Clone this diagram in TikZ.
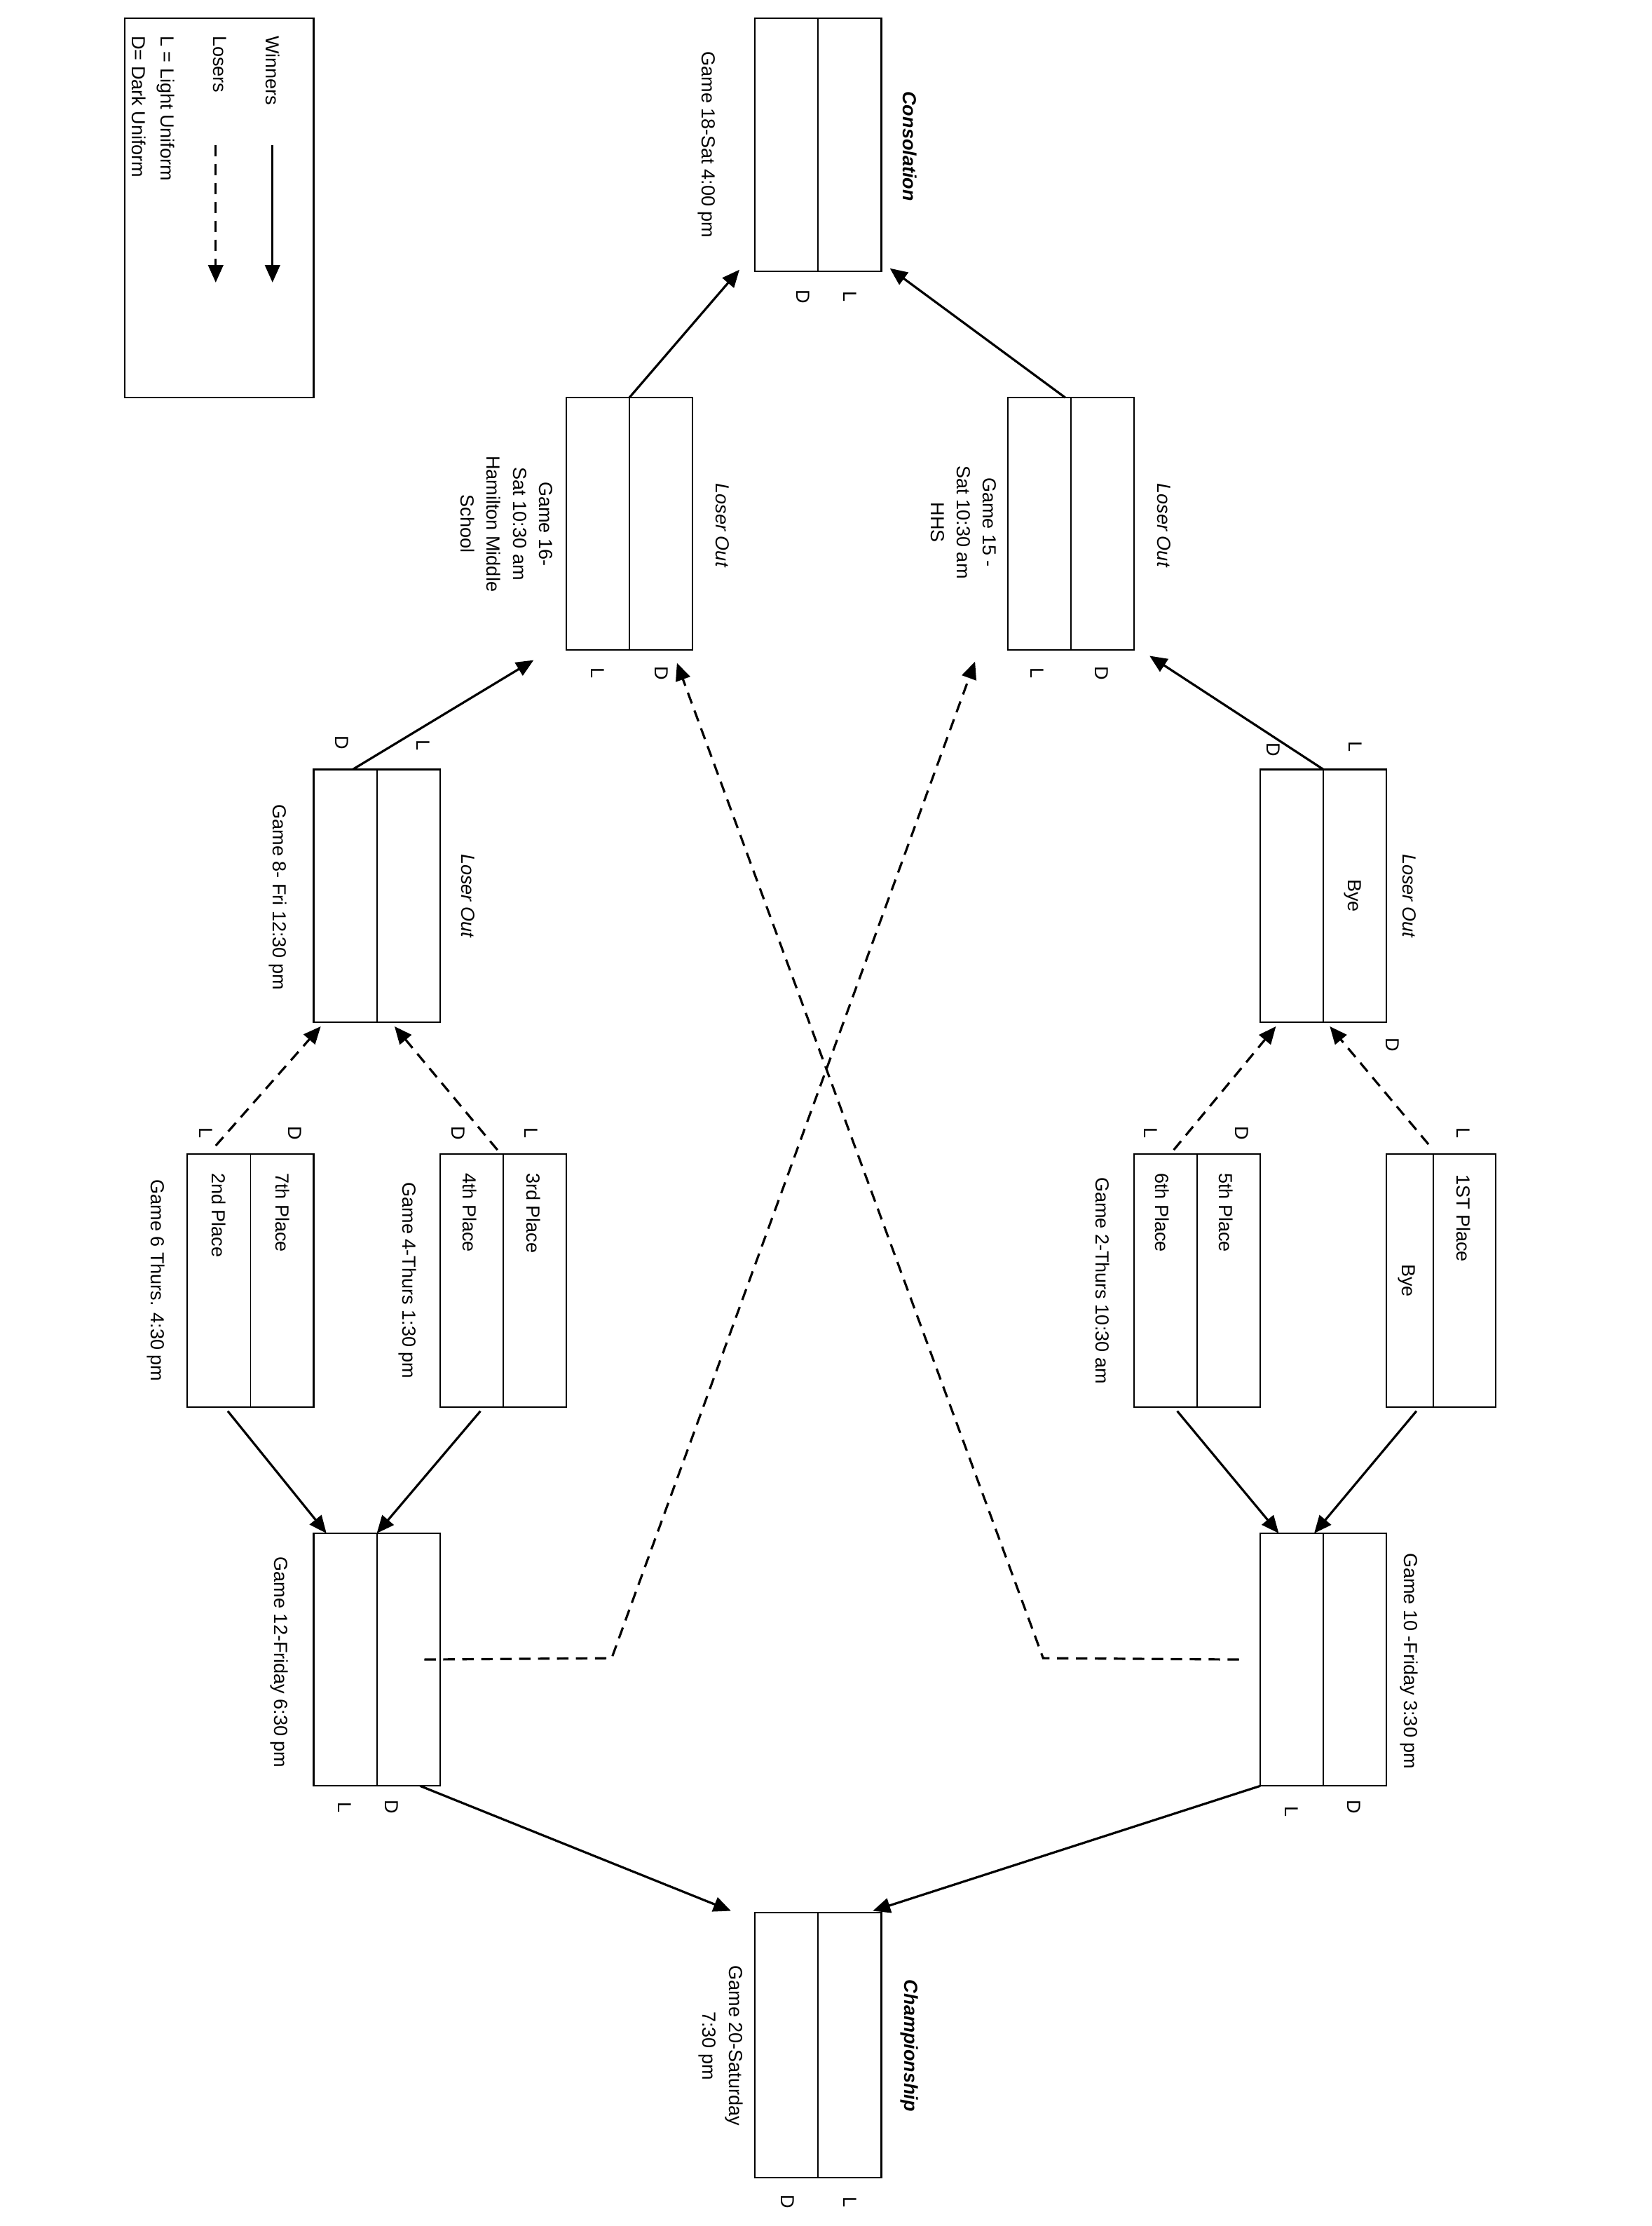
\documentclass[tikz,border=0pt]{standalone}
\usepackage{fontspec}
\setmainfont{Liberation Sans}
\usepackage{tikz}
\usetikzlibrary{arrows.meta, positioning, calc}

\begin{document}
\begin{tikzpicture}[x={(0.02cm,0)}, y={(0,-0.02cm)},
        game/.style={draw, line width=0.6pt, minimum width=1.78cm, minimum height=3.56cm, inner sep=0pt, outer sep=0pt},
        txt/.style={rotate=-90, inner sep=0pt, align=center, font=\fontsize{7.6}{10.5}\selectfont},
        note/.style={txt, font=\fontsize{7.6}{10.5}\selectfont\itshape},
        title/.style={txt, font=\fontsize{7.6}{10.5}\selectfont\bfseries\itshape},
        win/.style={line width=0.9pt, -{Triangle[length=7pt, width=6pt]}},
        lose/.style={win, dash pattern=on 4.6pt off 3pt},
        divider/.style={line width=0.5pt}]
        \useasboundingbox (0,0) rectangle (1164,1568);

        % Legend
        \node[game, minimum width=2.66cm, minimum height=5.34cm] (legend) at (154.5,146.5) {};
        \node[txt, anchor=west] (lwin) at (192,25) {Winners};
        \node[txt, anchor=west] (llose) at (155,25) {Losers};
        \node[txt, anchor=west] (llight) at (117,25) {L = Light Uniform};
        \node[txt, anchor=west] (ldark) at (98,25) {D= Dark Uniform};
        \coordinate (wa) at (192,102);
        \coordinate (wb) at (192,199);
        \coordinate (la) at (152,102);
        \coordinate (lb) at (152,199);
        \draw[win] (wa) -- (wb);
        \draw[lose] (la) -- (lb);

        % Game boxes
        \node[game] (g18) at (576.5,102) {};
        \node[game] (g16) at (443.5,369) {};
        \node[game] (g15) at (754.5,369) {};
        \node[game] (g8) at (265.5,631) {};
        \node[game] (g9) at (932.5,631) {};
        \node[game] (g6) at (176.5,902) {};
        \node[game] (g4) at (354.5,902) {};
        \node[game] (g2) at (843.5,902) {};
        \node[game, minimum width=1.54cm] (g1) at (1015.5,902) {};
        \node[game] (g12) at (265.5,1169) {};
        \node[game] (g10) at (932.5,1169) {};
        \node[game, minimum height=3.74cm] (g20) at (576.5,1440.5) {};
        \foreach \g in {g18,g16,g15,g8,g9,g6,g4,g2,g12,g10,g20} {
            \draw[divider] (\g.north) -- (\g.south);
        }
        \draw[divider] ([shift={(-5.5,0)}]g1.north) -- ([shift={(-5.5,0)}]g1.south);

        % Consolation
        \node[title] (t18a) at (641,103) {Consolation};
        \node[txt] (t18b) at (498,102) {Game 18-Sat 4:00 pm};
        \node[txt] (l18) at (599,209) {L};
        \node[txt] (d18) at (566,209) {D};

        % Game 16 and Game 15
        \node[note] (t16a) at (509,370) {Loser Out};
        \node[txt] (t16b) at (357,369) {Game 16-\\Sat 10:30 am\\Hamilton Middle\\School};
        \node[txt] (l16) at (421,474) {L};
        \node[txt] (d16) at (466,474) {D};
        \node[note] (t15a) at (820,370) {Loser Out};
        \node[txt] (t15b) at (679,368) {Game 15 -\\Sat 10:30 am\\HHS};
        \node[txt] (l15) at (731,474) {L};
        \node[txt] (d15) at (776,474) {D};

        % Game 8 and the bye
        \node[note] (t8a) at (330,631) {Loser Out};
        \node[txt] (t8b) at (196,632) {Game 8- Fri 12:30 pm};
        \node[txt] (l8) at (298,525) {L};
        \node[txt] (d8) at (241,523) {D};
        \node[note] (t9a) at (993,631) {Loser Out};
        \node[txt] (t9b) at (953,631) {Bye};
        \node[txt] (l9) at (955,526) {L};
        \node[txt] (d9) at (897,528) {D};
        \node[txt] (d9b) at (981,736) {D};

        % First round
        \node[txt, anchor=west] (p3) at (376,826) {3rd Place};
        \node[txt, anchor=west] (p4) at (331,826) {4th Place};
        \node[txt] (t4) at (287,902) {Game 4-Thurs 1:30 pm};
        \node[txt] (l4) at (374,798) {L};
        \node[txt] (d4) at (323,798) {D};
        \node[txt, anchor=west] (p7) at (199,826) {7th Place};
        \node[txt, anchor=west] (p2) at (154,826) {2nd Place};
        \node[txt] (t6) at (110,902) {Game 6 Thurs. 4:30 pm};
        \node[txt] (l6) at (145,798) {L};
        \node[txt] (d6) at (208,798) {D};
        \node[txt, anchor=west] (p5) at (864,826) {5th Place};
        \node[txt, anchor=west] (p6) at (819,826) {6th Place};
        \node[txt] (t2) at (777,902) {Game 2-Thurs 10:30 am};
        \node[txt] (l2) at (811,798) {L};
        \node[txt] (d2) at (875,798) {D};
        \node[txt, anchor=west] (p1) at (1031,827) {1ST Place};
        \node[txt] (t1) at (991,902) {Bye};
        \node[txt] (l1) at (1031,798) {L};

        % Game 12 and Game 10
        \node[txt] (t12) at (197,1171) {Game 12-Friday 6:30 pm};
        \node[txt] (l12) at (243,1273) {L};
        \node[txt] (d12) at (276,1273) {D};
        \node[txt] (t10) at (993,1170) {Game 10 -Friday 3:30 pm};
        \node[txt] (l10) at (910,1276) {L};
        \node[txt] (d10) at (954,1273) {D};

        % Championship
        \node[title] (t20a) at (641,1441) {Championship};
        \node[txt] (t20b) at (508,1441) {Game 20-Saturday\\7:30 pm};
        \node[txt] (l20) at (599,1551) {L};
        \node[txt] (d20) at (555,1551) {D};

        % Winners
        \draw[win] (g16.north) -- ([shift={(-11,-1)}]g18.south west);
        \draw[win] ([shift={(-4,0)}]g15.north) -- ([shift={(6,-2)}]g18.south east);
        \draw[win] ([shift={(-17,0)}]g8.north) -- ([shift={(-23,7)}]g16.south west);
        \draw[win] (g9.north) -- ([shift={(11,4)}]g15.south east);
        \draw[win] ([shift={(-16,3)}]g6.south) -- ([shift={(9,0)}]g12.north west);
        \draw[win] ([shift={(-16,3)}]g4.south) -- (g12.north);
        \draw[win] ([shift={(-14,3)}]g2.south) -- ([shift={(13,0)}]g10.north west);
        \draw[win] ([shift={(-17.5,3)}]g1.south) -- ([shift={(-6.5,0)}]g10.north);
        \draw[win] ([shift={(-14,0)}]g12.south east) -- ([shift={(-17,-1)}]g20.north west);
        \draw[win] (g10.south west) -- ([shift={(-6,-1)}]g20.north east);

        % Losers
        \draw[lose] ([shift={(-4,-3)}]g4.north) -- ([shift={(12.5,3)}]g8.south);
        \draw[lose] ([shift={(20,-6)}]g6.north west) -- ([shift={(5,3)}]g8.south west);
        \draw[lose] ([shift={(28,-3)}]g2.north west) -- ([shift={(11,3)}]g9.south west);
        \draw[lose] ([shift={(-9,-7)}]g1.north) -- ([shift={(4.5,3)}]g9.south);
        \coordinate (b12) at (431,1168);
        \coordinate (b10) at (735,1168);
        \draw[lose] ([shift={(-11,0)}]g12.east) -- (b12) -- ([shift={(-23,8)}]g15.south west);
        \draw[lose] ([shift={(-15,0)}]g10.west) -- (b10) -- ([shift={(-11,9)}]g16.south east);
    \end{tikzpicture}
\end{document}
